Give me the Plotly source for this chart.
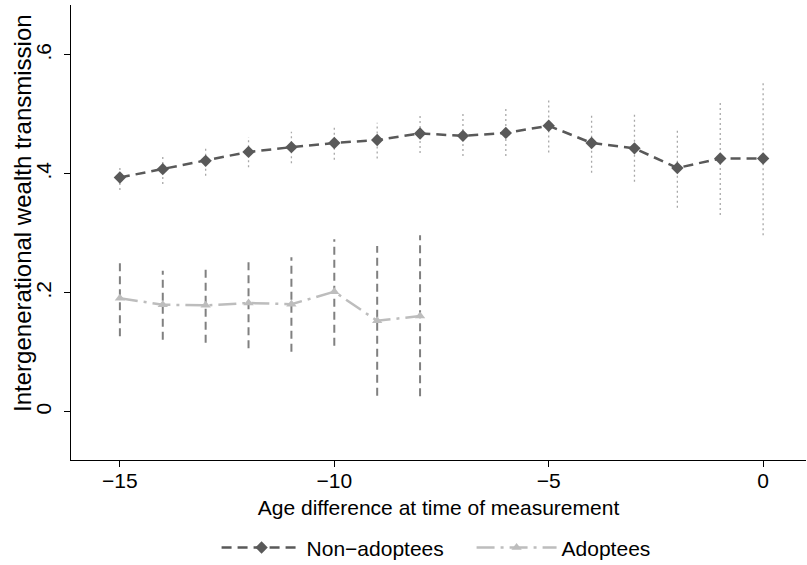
import plotly.graph_objects as go

# ---- data ----
ages_non = [-15, -14, -13, -12, -11, -10, -9, -8, -7, -6, -5, -4, -3, -2, -1, 0]
est_non = [0.394, 0.408, 0.422, 0.437, 0.445, 0.452, 0.457, 0.468, 0.464, 0.469,
           0.481, 0.452, 0.443, 0.410, 0.426, 0.426]
lo_non = [0.373, 0.383, 0.397, 0.411, 0.418, 0.424, 0.426, 0.435, 0.430, 0.430,
          0.436, 0.402, 0.387, 0.343, 0.331, 0.297]
hi_non = [0.415, 0.430, 0.446, 0.462, 0.471, 0.479, 0.486, 0.500, 0.501, 0.509,
          0.526, 0.500, 0.500, 0.477, 0.521, 0.555]

ages_ad = [-15, -14, -13, -12, -11, -10, -9, -8]
est_ad = [0.191, 0.180, 0.179, 0.183, 0.181, 0.202, 0.153, 0.161]
lo_ad = [0.127, 0.121, 0.116, 0.107, 0.101, 0.111, 0.027, 0.026]
hi_ad = [0.255, 0.237, 0.241, 0.257, 0.260, 0.290, 0.279, 0.297]

x_ticks = [-15, -10, -5, 0]
y_ticks = [0, 0.2, 0.4, 0.6]
y_ticklabels = ["0", ".2", ".4", ".6"]

FONT = "Liberation Sans, Arial, sans-serif"
C_NON = "#595959"
C_AD = "#bdbdbd"


def segs(xs, lo, hi):
    sx, sy = [], []
    for x, a, b in zip(xs, lo, hi):
        sx += [x, x, None]
        sy += [a, b, None]
    return sx, sy


fig = go.Figure()

sx, sy = segs(ages_non, lo_non, hi_non)
fig.add_trace(go.Scatter(x=sx, y=sy, mode="lines", showlegend=False, hoverinfo="skip",
                         line=dict(color="#a8a8a8", width=1.3, dash="2px,3px")))
sx, sy = segs(ages_ad, lo_ad, hi_ad)
fig.add_trace(go.Scatter(x=sx, y=sy, mode="lines", showlegend=False, hoverinfo="skip",
                         line=dict(color="#808080", width=2, dash="8px,5px")))

fig.add_trace(go.Scatter(x=ages_non, y=est_non, mode="lines+markers", name="Non\u2212adoptees",
                         line=dict(color=C_NON, width=2.5, dash="10px,6px"),
                         marker=dict(symbol="diamond", size=9.5, color=C_NON)))
fig.add_trace(go.Scatter(x=ages_ad, y=est_ad, mode="lines+markers", name="Adoptees",
                         line=dict(color=C_AD, width=2.5, dash="18px,6px,3px,6px"),
                         marker=dict(symbol="triangle-up", size=9, color=C_AD)))

fig.update_layout(
    width=807, height=565,
    margin=dict(l=71, r=1, t=5, b=105, autoexpand=False),
    paper_bgcolor="white", plot_bgcolor="white",
    font=dict(family=FONT, size=21, color="black"),
    legend=dict(orientation="h", x=0.545, xanchor="center", y=-0.193, yanchor="middle",
                itemwidth=80, entrywidth=160, font=dict(size=21), traceorder="normal"),
    xaxis=dict(range=[-16.14, 1.0], tickvals=x_ticks, ticks="outside", ticklen=6,
               tickwidth=1, tickcolor="black", showline=True, linecolor="black", linewidth=1,
               showgrid=False, zeroline=False, tickfont=dict(size=21),
               ticklabelstandoff=-4,
               title=dict(text="Age difference at time of measurement", font=dict(size=21),
                          standoff=9),
               automargin=False),
    yaxis=dict(range=[-0.081, 0.684], tickvals=y_ticks, ticktext=y_ticklabels,
               ticks="outside", ticklen=6, tickwidth=1, tickcolor="black", tickangle=-90,
               ticklabelstandoff=5,
               showline=True, linecolor="black", linewidth=1, showgrid=False, zeroline=False,
               tickfont=dict(size=21), automargin=False),
    annotations=[dict(text="Intergenerational wealth transmission", textangle=-90,
                      xref="paper", yref="paper", x=-0.0653, y=0.543,
                      xanchor="center", yanchor="middle", showarrow=False,
                      font=dict(size=24))],
)

fig.write_html("out.html", config={"displayModeBar": False},
               post_script="document.body.style.margin='0';")
